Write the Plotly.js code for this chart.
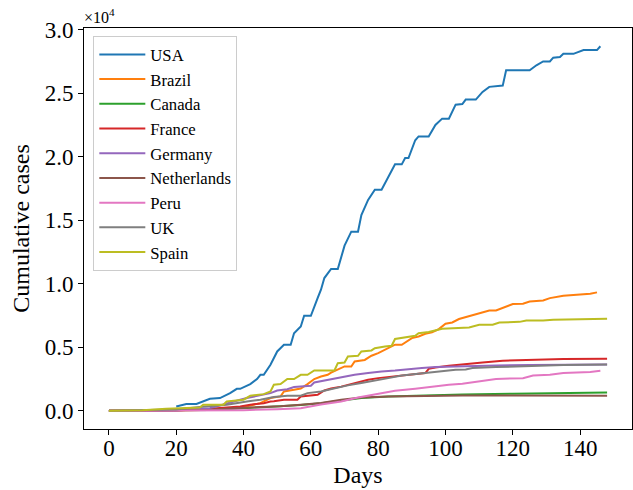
<!DOCTYPE html>
<html>
<head>
<meta charset="utf-8">
<script src="https://cdn.plot.ly/plotly-3.0.1.min.js"></script>
<style>html,body{margin:0;padding:0;background:#fff;}#chart{width:633px;height:490px;}</style>
</head>
<body>
<div id="chart"></div>
<script>
// Cumulative cases, in units of 10^4
const countries = ["USA","Brazil","Canada","France","Germany","Netherlands","Peru","UK","Spain"];
const colors = ["#1f77b4","#ff7f0e","#2ca02c","#d62728","#9467bd","#8c564b","#e377c2","#7f7f7f","#bcbd22"];

const usaDays = [20,23,26,28,30,33,34,36,38,39,42,44,45,46,48,50,52,54,55,57,58,60,62,63,64,66,68,70,72,74,75,77,79,81,85,87,88,89,91,92,95,97,99,101,103,105,106,109,111,113,117,118,125,127,129,131,132,134,135,138,141,145,146];
const usaVals = [0.034,0.053,0.053,0.073,0.094,0.10,0.113,0.139,0.173,0.173,0.21,0.25,0.283,0.283,0.362,0.467,0.52,0.52,0.61,0.664,0.748,0.748,0.887,0.953,1.045,1.116,1.116,1.30,1.41,1.41,1.54,1.66,1.74,1.74,1.94,1.94,1.99,1.99,2.13,2.16,2.16,2.25,2.30,2.30,2.41,2.415,2.45,2.45,2.51,2.55,2.56,2.68,2.68,2.72,2.75,2.75,2.78,2.785,2.81,2.81,2.84,2.84,2.87];

const brazilDays = [0,20,35,40,45,47,48,51,52,55,57,59,61,63,65,66,68,70,72,73,76,78,80,83,85,87,90,92,94,96,98,100,102,104,106,109,113,115,118,120,123,125,129,131,135,139,141,143,145];
const brazilVals = [0,0.002,0.01,0.03,0.06,0.085,0.1,0.113,0.152,0.165,0.175,0.21,0.25,0.27,0.283,0.30,0.323,0.349,0.349,0.388,0.40,0.433,0.454,0.493,0.52,0.52,0.572,0.585,0.606,0.617,0.643,0.685,0.695,0.722,0.738,0.756,0.79,0.79,0.82,0.84,0.843,0.86,0.869,0.887,0.906,0.913,0.921,0.921,0.932];

const canadaDays = [0,20,30,37,45,51,57,63,69,75,83,93,105,120,135,148];
const canadaVals = [0,0.002,0.007,0.015,0.025,0.032,0.045,0.06,0.08,0.10,0.112,0.12,0.128,0.135,0.14,0.144];

const franceDays = [0,20,30,39,42,46,48,49,52,56,57,62,64,66,69,72,74,77,80,83,87,91,94,95,97,101,105,111,117,125,135,148];
const franceVals = [0,0.003,0.015,0.034,0.047,0.06,0.073,0.075,0.087,0.087,0.113,0.126,0.16,0.175,0.19,0.21,0.226,0.244,0.257,0.265,0.278,0.289,0.297,0.33,0.341,0.354,0.362,0.38,0.394,0.40,0.407,0.41];

const germanyDays = [0,20,30,35,39,41,44,48,50,53,55,58,60,61,64,67,70,73,77,81,85,89,93,97,102,108,115,125,135,148];
const germanyVals = [0,0.003,0.02,0.06,0.087,0.1,0.118,0.139,0.16,0.17,0.187,0.19,0.197,0.223,0.239,0.252,0.27,0.283,0.297,0.31,0.317,0.328,0.336,0.344,0.349,0.354,0.357,0.36,0.362,0.364];

const netherlandsDays = [0,20,30,37,45,51,57,63,69,75,83,93,105,120,135,148];
const netherlandsVals = [0,0.002,0.008,0.02,0.028,0.036,0.048,0.062,0.087,0.105,0.113,0.118,0.12,0.12,0.119,0.119];

const peruDays = [0,30,40,50,57,63,69,74,79,85,91,96,101,105,109,115,123,126,131,135,139,143,146];
const peruVals = [0,0.002,0.005,0.012,0.02,0.05,0.073,0.105,0.131,0.157,0.173,0.191,0.205,0.213,0.23,0.25,0.257,0.278,0.283,0.297,0.302,0.305,0.315];

const ukDays = [0,20,27,35,41,45,49,53,57,59,63,67,71,75,79,83,87,91,95,99,103,106,108,115,125,135,148];
const ukVals = [0,0.01,0.029,0.047,0.073,0.087,0.108,0.118,0.118,0.139,0.152,0.178,0.20,0.218,0.236,0.257,0.278,0.289,0.305,0.315,0.323,0.325,0.336,0.344,0.354,0.36,0.365];

const spainDays = [0,10,17,27,28,34,35,40,42,46,48,49,51,53,55,57,59,61,67,68,70,71,74,75,78,79,82,84,85,88,91,92,95,99,102,104,107,110,114,116,122,124,129,132,140,148];
const spainVals = [0,0.005,0.016,0.025,0.047,0.047,0.073,0.087,0.118,0.131,0.152,0.205,0.21,0.25,0.25,0.283,0.283,0.317,0.317,0.375,0.38,0.428,0.433,0.467,0.475,0.493,0.506,0.512,0.565,0.577,0.59,0.61,0.62,0.646,0.651,0.656,0.656,0.677,0.677,0.695,0.70,0.711,0.711,0.717,0.722,0.724];

const xTickVals = [0,20,40,60,80,100,120,140];
const yTickVals = [0,0.5,1.0,1.5,2.0,2.5,3.0];

const series = [
  [usaDays, usaVals], [brazilDays, brazilVals], [canadaDays, canadaVals],
  [franceDays, franceVals], [germanyDays, germanyVals], [netherlandsDays, netherlandsVals],
  [peruDays, peruVals], [ukDays, ukVals], [spainDays, spainVals]
];

const traces = series.map((s, i) => ({
  x: s[0], y: s[1], type: 'scatter', mode: 'lines', name: countries[i],
  legendgroup: 'g' + i,
  line: {color: colors[i], width: 2}
}));

const font = 'Liberation Serif';
const layout = {
  width: 633, height: 490,
  margin: {l: 84, r: 1, t: 28, b: 61},
  paper_bgcolor: '#fff', plot_bgcolor: '#fff',
  font: {family: font, color: '#000'},
  showlegend: true,
  legend: {
    x: 0.017, y: 0.98, xanchor: 'left', yanchor: 'top',
    bgcolor: 'rgba(255,255,255,0.8)', bordercolor: '#cccccc', borderwidth: 1,
    font: {family: font, size: 16.7, color: '#000'},
    tracegroupgap: 0, itemwidth: 46
  },
  xaxis: {
    range: [-7.4, 155.4], tickvals: xTickVals, ticks: 'outside', ticklen: 5, tickwidth: 1,
    tickcolor: '#000', showline: true, linecolor: '#000', linewidth: 1, mirror: true,
    showgrid: false, zeroline: false, ticklabelstandoff: -7,
    tickfont: {family: font, size: 23, color: '#000'},
    title: {text: 'Days', font: {family: font, size: 24, color: '#000'}, standoff: 6}
  },
  yaxis: {
    range: [-0.1435, 3.0135], tickvals: yTickVals, tickformat: '.1f', ticks: 'outside', ticklen: 5, tickwidth: 1,
    tickcolor: '#000', showline: true, linecolor: '#000', linewidth: 1, mirror: true,
    showgrid: false, zeroline: false,
    tickfont: {family: font, size: 23, color: '#000'},
    title: {text: 'Cumulative cases', font: {family: font, size: 24, color: '#000'}, standoff: 8}
  },
  annotations: [{
    xref: 'paper', yref: 'paper', x: 0, y: 1, xanchor: 'left', yanchor: 'bottom',
    text: '×10<sup>4</sup>', showarrow: false, font: {family: font, size: 16, color: '#000'}, xshift: -2
  }]
};

Plotly.newPlot('chart', traces, layout, {displayModeBar: false, staticPlot: true});
</script>
</body>
</html>
